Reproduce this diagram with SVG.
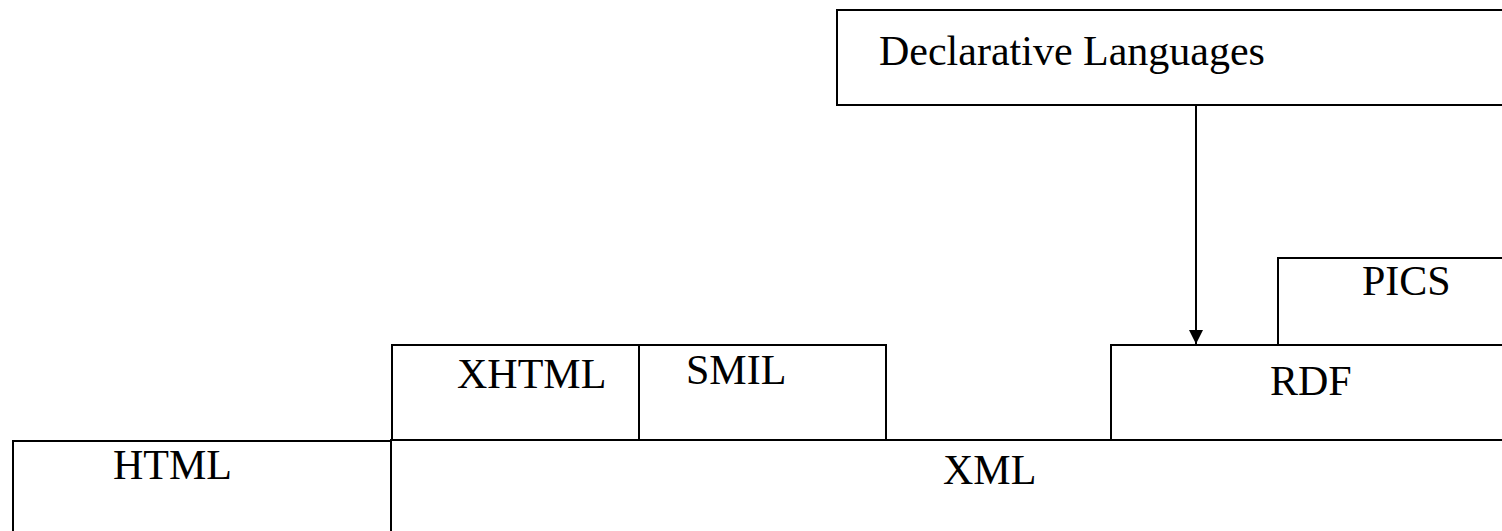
<svg xmlns="http://www.w3.org/2000/svg" width="1502" height="531" viewBox="0 0 1502 531">
<style>
.box{fill:#fff;stroke:#000;stroke-width:2}
.t{font-family:"Liberation Serif","Times New Roman",serif;font-size:42px;fill:#000}
.c{stroke:#000;stroke-width:2;fill:none}
</style>
<defs>
<marker id="ah" viewBox="0 0 10 10" refX="10" refY="5" markerWidth="14" markerHeight="14" markerUnits="userSpaceOnUse" orient="auto">
<path d="M0,0 L10,5 L0,10 z" fill="#000"/>
</marker>
</defs>
<rect width="1502" height="531" fill="#fff"/>
<g id="decl"><rect class="box" x="837" y="10" width="700" height="95"/><text class="t" x="879" y="65">Declarative Languages</text></g>
<g id="pics"><rect class="box" x="1278" y="258" width="260" height="88"/><text class="t" x="1362" y="295">PICS</text></g>
<g id="rdf"><rect class="box" x="1111" y="345" width="430" height="96"/><text class="t" x="1270" y="395">RDF</text></g>
<g id="xhtml"><rect class="box" x="392" y="345" width="247" height="95"/><text class="t" x="457" y="388">XHTML</text></g>
<g id="smil"><rect class="box" x="639" y="345" width="247" height="95"/><text class="t" x="686" y="384">SMIL</text></g>
<g id="html"><rect class="box" x="13" y="441" width="378" height="120"/><text class="t" x="113" y="479">HTML</text></g>
<g id="xml"><rect class="box" x="391" y="440" width="1150" height="121"/><text class="t" x="943" y="484">XML</text></g>
<g id="connectors"><line class="c" x1="1196" y1="106" x2="1196" y2="344" marker-end="url(#ah)"/></g>
</svg>
